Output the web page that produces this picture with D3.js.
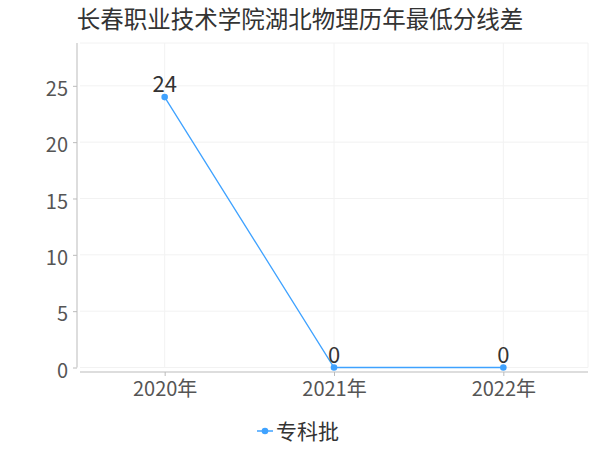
<!DOCTYPE html>
<html><head><meta charset="utf-8">
<script src="https://cdn.jsdelivr.net/npm/d3@7"></script>
<style>body{margin:0;background:#fff}svg{display:block}text{font-family:"Noto Sans CJK SC","Noto Sans",sans-serif}</style>
</head><body><svg id="c" width="600" height="450"></svg>
<script>
const title = "长春职业技术学院湖北物理历年最低分线差";
const categories = ["2020年", "2021年", "2022年"];
const seriesName = "专科批";
const values = [24, 0, 0];
const yTicks = [0, 5, 10, 15, 20, 25];
const yMax = 28.8;

const svg = d3.select("#c");
const color = "#3fa2ff";
const L = 80, R = 588, T = 43, B = 367.5;
const x = d3.scalePoint().domain(categories).range([L, R]).padding(0.5);
const y = d3.scaleLinear().domain([0, yMax]).range([B, T]);

// grid
const g = svg.append("g");
g.selectAll(".hg").data(yTicks.concat([yMax])).enter().append("line")
  .attr("x1", L).attr("x2", R).attr("y1", d => y(d)).attr("y2", d => y(d))
  .attr("stroke", "#f2f2f2").attr("stroke-width", 1);
g.selectAll(".vg").data(categories).enter().append("line")
  .attr("x1", d => x(d)).attr("x2", d => x(d)).attr("y1", T).attr("y2", B)
  .attr("stroke", "#f2f2f2").attr("stroke-width", 1);
g.append("line").attr("x1", R).attr("x2", R).attr("y1", T).attr("y2", B).attr("stroke", "#f2f2f2");

// y axis
const ya = svg.append("g").attr("transform", "translate(77,0)")
  .call(d3.axisLeft(y).tickValues(yTicks).tickSize(4).tickPadding(5).tickFormat(d3.format("d")));
ya.select(".domain").attr("d", `M0,${T}V${B}`).attr("stroke", "#bbb");
ya.selectAll(".tick line").attr("stroke", "#bbb");
ya.selectAll(".tick text").attr("font-size", 20).attr("fill", "#555").attr("dy", "0.38em")
  .attr("y", 2);

// x axis
const xa = svg.append("g").attr("transform", "translate(0,372)")
  .call(d3.axisBottom(x).tickSize(4).tickPadding(6));
xa.select(".domain").attr("d", `M${L},0H${R}`).attr("stroke", "#bbb");
xa.selectAll(".tick line").attr("stroke", "#bbb");
xa.selectAll(".tick text").attr("font-size", 20).attr("fill", "#555");

// line
const data = categories.map((c, i) => ({c, v: values[i]}));
svg.append("path").datum(data)
  .attr("fill", "none").attr("stroke", color).attr("stroke-width", 1.3)
  .attr("d", d3.line().x(d => x(d.c)).y(d => y(d.v)));
svg.selectAll(".pt").data(data).enter().append("circle")
  .attr("cx", d => x(d.c)).attr("cy", d => y(d.v)).attr("r", 3.3).attr("fill", color);
svg.selectAll(".lbl").data(data).enter().append("text")
  .attr("x", d => x(d.c)).attr("y", d => y(d.v) - 5)
  .attr("text-anchor", "middle").attr("font-size", 22).attr("fill", "#333")
  .text(d => d.v);

// title
svg.append("text").attr("x", 300).attr("y", 27.5).attr("text-anchor", "middle")
  .attr("font-size", 23.5).attr("fill", "#333").text(title);

// legend
const lg = svg.append("g");
lg.append("line").attr("x1", 257).attr("x2", 273).attr("y1", 431).attr("y2", 431)
  .attr("stroke", color).attr("stroke-width", 1.5);
lg.append("circle").attr("cx", 265).attr("cy", 431).attr("r", 3.3).attr("fill", color);
lg.append("text").attr("x", 276).attr("y", 431).attr("dy", "0.36em")
  .attr("font-size", 21).attr("fill", "#333").text(seriesName);
</script></body></html>
